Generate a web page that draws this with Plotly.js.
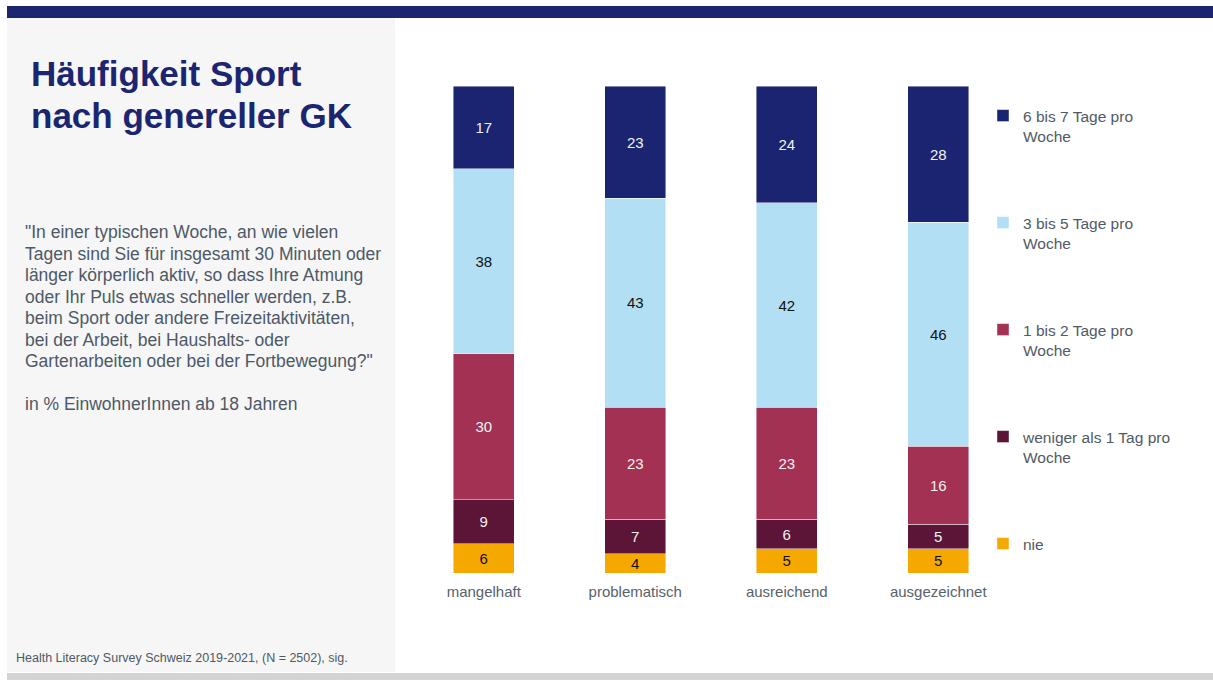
<!DOCTYPE html>
<html><head><meta charset="utf-8">
<script src="https://cdn.plot.ly/plotly-3.0.1.min.js"></script>
<style>html,body{margin:0;padding:0;background:#fff;}#chart{width:1213px;height:680px;}</style>
</head><body><div id="chart"></div>
<script>
// ---- data ----
const categories = ['mangelhaft', 'problematisch', 'ausreichend', 'ausgezeichnet'];
const seriesNames = ['nie', 'weniger als 1 Tag pro<br>Woche', '1 bis 2 Tage pro<br>Woche', '3 bis 5 Tage pro<br>Woche', '6 bis 7 Tage pro<br>Woche'];
const nie = [6, 4, 5, 5];
const wenigerAls1 = [9, 7, 6, 5];
const tage1bis2 = [30, 23, 23, 16];
const tage3bis5 = [38, 43, 42, 46];
const tage6bis7 = [17, 23, 24, 28];

const titleLines = ['Häufigkeit Sport', 'nach genereller GK'];
const questionLines = [
  '"In einer typischen Woche, an wie vielen',
  'Tagen sind Sie für insgesamt 30 Minuten oder',
  'länger körperlich aktiv, so dass Ihre Atmung',
  'oder Ihr Puls etwas schneller werden, z.B.',
  'beim Sport oder andere Freizeitaktivitäten,',
  'bei der Arbeit, bei Haushalts- oder',
  'Gartenarbeiten oder bei der Fortbewegung?"',
  '',
  'in % EinwohnerInnen ab 18 Jahren'
];
const sourceText = 'Health Literacy Survey Schweiz 2019-2021, (N = 2502), sig.';

// ---- styles ----
const values = [nie, wenigerAls1, tage1bis2, tage3bis5, tage6bis7];
const colors = ['#f5a800', '#5c1437', '#a33153', '#b3dff4', '#1b2470'];
const textColors = ['#111111', '#f2f2f2', '#f2f2f2', '#111111', '#f2f2f2'];
const FONT = 'Liberation Sans, Arial, sans-serif';

// plot geometry (pixels)
const W = 1213, H = 680, L = 408, R = 1014, T = 86, B = 573;
const xp = px => (px - L) / (R - L);
const yp = py => (B - py) / (B - T);

const traces = values.map((v, i) => ({
  type: 'bar',
  name: seriesNames[i],
  x: categories,
  y: v,
  text: v.map(String),
  textposition: 'inside',
  insidetextanchor: 'middle',
  constraintext: 'none',
  textangle: 0,
  textfont: {family: FONT, size: 15, color: textColors[i]},
  marker: {color: colors[i], line: {color: 'rgba(255,255,255,0.6)', width: 0.75}},
  width: 0.4,
  legendgroup: 'g' + i,
  legendrank: 10 - i,
  hoverinfo: 'skip'
}));

const annotations = [
  {xref: 'paper', yref: 'paper', x: xp(29), y: yp(73), xanchor: 'left', yanchor: 'middle', showarrow: false, align: 'left',
   text: '<b>' + titleLines[0] + '</b>', font: {family: FONT, size: 35, color: '#1b2570'}},
  {xref: 'paper', yref: 'paper', x: xp(29), y: yp(115), xanchor: 'left', yanchor: 'middle', showarrow: false, align: 'left',
   text: '<b>' + titleLines[1] + '</b>', font: {family: FONT, size: 35, color: '#1b2570'}},
  {xref: 'paper', yref: 'paper', x: xp(14), y: yp(658), xanchor: 'left', yanchor: 'middle', showarrow: false, align: 'left',
   text: sourceText, font: {family: FONT, size: 12.5, color: '#4d5966'}}
];
questionLines.forEach((line, i) => {
  if (!line) return;
  annotations.push({xref: 'paper', yref: 'paper', x: xp(23), y: yp(232 + i * 21.5), xanchor: 'left', yanchor: 'middle',
    showarrow: false, align: 'left', text: line, font: {family: FONT, size: 17.5, color: '#4d5966'}});
});

const layout = {
  width: W, height: H,
  margin: {l: L, r: W - R, t: T, b: H - B, pad: 0},
  paper_bgcolor: '#ffffff',
  plot_bgcolor: 'rgba(0,0,0,0)',
  barmode: 'stack',
  font: {family: FONT, color: '#58626c'},
  xaxis: {
    type: 'category', range: [-0.5, 3.5],
    showgrid: false, zeroline: false, showline: false, ticks: '',
    tickfont: {family: FONT, size: 15, color: '#58626c'},
    ticklabelstandoff: 8
  },
  yaxis: {range: [0, 100], visible: false, showgrid: false, zeroline: false},
  showlegend: true,
  legend: {
    x: xp(983), xanchor: 'left',
    y: yp(99), yanchor: 'top',
    traceorder: 'grouped',
    tracegroupgap: 63.7,
    valign: 'top',
    bgcolor: 'rgba(0,0,0,0)',
    font: {family: FONT, size: 15.5, color: '#505a64'},
    itemclick: false, itemdoubleclick: false
  },
  shapes: [
    {type: 'rect', xref: 'paper', yref: 'paper', layer: 'below', x0: xp(7), x1: xp(395), y0: yp(18), y1: yp(672), fillcolor: '#f6f6f6', line: {width: 0}},
    {type: 'rect', xref: 'paper', yref: 'paper', layer: 'below', x0: xp(7), x1: xp(1213), y0: yp(6), y1: yp(18), fillcolor: '#1b2570', line: {width: 0}},
    {type: 'rect', xref: 'paper', yref: 'paper', layer: 'below', x0: xp(7), x1: xp(1213), y0: yp(673), y1: yp(680), fillcolor: '#d4d4d4', line: {width: 0}}
  ],
  annotations: annotations
};

Plotly.newPlot('chart', traces, layout, {staticPlot: true, displayModeBar: false});
</script>
</body></html>
